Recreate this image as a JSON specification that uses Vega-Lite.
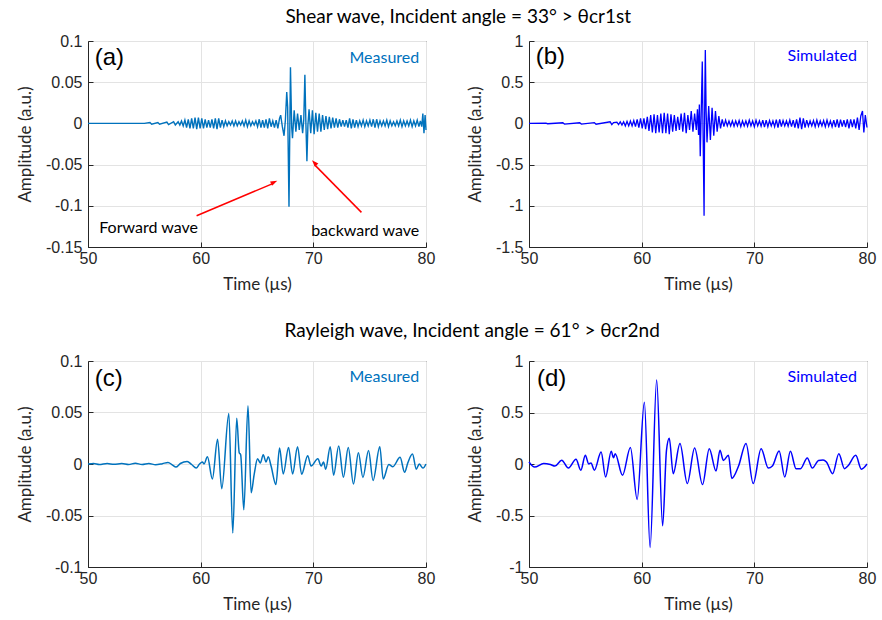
{
"$schema":"https://vega.github.io/schema/vega-lite/v6.json",
"background":"white",
"padding":{"left":16,"top":7,"right":6,"bottom":6},
"datasets":{
"a":[{"t":50,"a":0},{"t":55,"a":0},{"t":55.5,"a":0.001},{"t":55.65,"a":-0.001},{"t":56.2,"a":0.001},{"t":56.35,"a":-0.001},{"t":57,"a":0.0015},{"t":57.15,"a":-0.0015},{"t":57.6,"a":0.002},{"t":57.75,"a":-0.002},{"t":58,"a":0.002},{"t":58.15,"a":-0.002},{"t":58.3,"a":0.003},{"t":58.45,"a":-0.003},{"t":58.6,"a":0.004},{"t":58.75,"a":-0.005},{"t":58.9,"a":0.005},{"t":59.05,"a":-0.006},{"t":59.2,"a":0.006},{"t":59.35,"a":-0.006},{"t":59.5,"a":0.007},{"t":59.65,"a":-0.007},{"t":59.8,"a":0.007},{"t":59.95,"a":-0.006},{"t":60.1,"a":0.006},{"t":60.25,"a":-0.006},{"t":60.4,"a":0.005},{"t":60.55,"a":-0.005},{"t":60.7,"a":0.004},{"t":60.85,"a":-0.005},{"t":61,"a":0.005},{"t":61.15,"a":-0.006},{"t":61.3,"a":0.006},{"t":61.45,"a":-0.007},{"t":61.6,"a":0.006},{"t":61.75,"a":-0.005},{"t":61.9,"a":0.004},{"t":62.05,"a":-0.004},{"t":62.2,"a":0.003},{"t":62.35,"a":-0.003},{"t":62.5,"a":0.002},{"t":62.65,"a":-0.002},{"t":62.8,"a":0.003},{"t":62.95,"a":-0.003},{"t":63.1,"a":0.003},{"t":63.25,"a":-0.003},{"t":63.4,"a":0.002},{"t":63.55,"a":-0.002},{"t":63.7,"a":0.003},{"t":63.85,"a":-0.003},{"t":64,"a":0.004},{"t":64.15,"a":-0.004},{"t":64.3,"a":0.003},{"t":64.45,"a":-0.003},{"t":64.6,"a":0.002},{"t":64.75,"a":-0.002},{"t":64.9,"a":0.003},{"t":65.05,"a":-0.004},{"t":65.2,"a":0.005},{"t":65.35,"a":-0.005},{"t":65.5,"a":0.004},{"t":65.65,"a":-0.005},{"t":65.8,"a":0.005},{"t":65.95,"a":-0.006},{"t":66.1,"a":0.006},{"t":66.25,"a":-0.004},{"t":66.4,"a":0.003},{"t":66.55,"a":-0.005},{"t":66.7,"a":0.004},{"t":66.85,"a":-0.006},{"t":67,"a":0.006},{"t":67.1,"a":0.01},{"t":67.25,"a":-0.004},{"t":67.4,"a":-0.015},{"t":67.52,"a":0.004},{"t":67.64,"a":0.038},{"t":67.72,"a":0.02},{"t":67.84,"a":-0.101},{"t":67.97,"a":0.068},{"t":68.08,"a":-0.005},{"t":68.15,"a":-0.018},{"t":68.3,"a":0.016},{"t":68.45,"a":-0.01},{"t":68.6,"a":0.012},{"t":68.75,"a":-0.008},{"t":68.9,"a":0.01},{"t":69.05,"a":-0.012},{"t":69.15,"a":0.004},{"t":69.25,"a":0.059},{"t":69.34,"a":0},{"t":69.43,"a":-0.046},{"t":69.52,"a":-0.002},{"t":69.62,"a":0.017},{"t":69.77,"a":-0.012},{"t":69.92,"a":0.016},{"t":70.07,"a":-0.013},{"t":70.22,"a":0.013},{"t":70.37,"a":-0.01},{"t":70.52,"a":0.012},{"t":70.67,"a":-0.01},{"t":70.82,"a":0.01},{"t":70.97,"a":-0.008},{"t":71.12,"a":0.009},{"t":71.27,"a":-0.007},{"t":71.42,"a":0.008},{"t":71.57,"a":-0.006},{"t":71.72,"a":0.007},{"t":71.87,"a":-0.005},{"t":72.02,"a":0.006},{"t":72.17,"a":-0.005},{"t":72.32,"a":0.005},{"t":72.47,"a":-0.004},{"t":72.62,"a":0.004},{"t":72.77,"a":-0.004},{"t":72.92,"a":0.004},{"t":73.07,"a":-0.005},{"t":73.22,"a":0.006},{"t":73.37,"a":-0.006},{"t":73.52,"a":0.005},{"t":73.67,"a":-0.005},{"t":73.82,"a":0.004},{"t":73.97,"a":-0.004},{"t":74.12,"a":0.003},{"t":74.27,"a":-0.003},{"t":74.42,"a":0.004},{"t":74.57,"a":-0.004},{"t":74.72,"a":0.003},{"t":74.87,"a":-0.003},{"t":75.02,"a":0.004},{"t":75.17,"a":-0.004},{"t":75.32,"a":0.005},{"t":75.47,"a":-0.005},{"t":75.62,"a":0.005},{"t":75.77,"a":-0.004},{"t":75.92,"a":0.003},{"t":76.07,"a":-0.003},{"t":76.22,"a":0.003},{"t":76.37,"a":-0.003},{"t":76.52,"a":0.004},{"t":76.67,"a":-0.004},{"t":76.82,"a":0.003},{"t":76.97,"a":-0.003},{"t":77.12,"a":0.002},{"t":77.27,"a":-0.003},{"t":77.42,"a":0.003},{"t":77.57,"a":-0.003},{"t":77.72,"a":0.004},{"t":77.87,"a":-0.004},{"t":78.02,"a":0.003},{"t":78.17,"a":-0.003},{"t":78.32,"a":0.003},{"t":78.47,"a":-0.003},{"t":78.62,"a":0.004},{"t":78.77,"a":-0.004},{"t":78.92,"a":0.003},{"t":79.07,"a":-0.003},{"t":79.22,"a":0.004},{"t":79.37,"a":-0.004},{"t":79.5,"a":0.003},{"t":79.62,"a":-0.004},{"t":79.72,"a":0.012},{"t":79.82,"a":-0.012},{"t":79.92,"a":0.01},{"t":80,"a":-0.008}],
"b":[{"t":50,"a":0},{"t":51.5,"a":0.004},{"t":51.65,"a":-0.004},{"t":53,"a":0.008},{"t":53.15,"a":-0.008},{"t":54.5,"a":0.008},{"t":54.65,"a":-0.008},{"t":55.8,"a":0.01},{"t":55.95,"a":-0.01},{"t":57.2,"a":0.02},{"t":57.35,"a":-0.015},{"t":57.5,"a":0.01},{"t":57.8,"a":0.015},{"t":57.95,"a":-0.015},{"t":58.1,"a":0.02},{"t":58.25,"a":-0.02},{"t":58.4,"a":0.02},{"t":58.55,"a":-0.03},{"t":58.7,"a":0.025},{"t":58.85,"a":-0.03},{"t":59,"a":0.03},{"t":59.15,"a":-0.03},{"t":59.3,"a":0.035},{"t":59.45,"a":-0.04},{"t":59.6,"a":0.05},{"t":59.75,"a":-0.05},{"t":59.9,"a":0.06},{"t":60.05,"a":-0.06},{"t":60.2,"a":0.06},{"t":60.35,"a":-0.07},{"t":60.5,"a":0.08},{"t":60.65,"a":-0.09},{"t":60.8,"a":0.1},{"t":60.95,"a":-0.11},{"t":61.1,"a":0.11},{"t":61.25,"a":-0.12},{"t":61.4,"a":0.1},{"t":61.55,"a":-0.11},{"t":61.7,"a":0.12},{"t":61.85,"a":-0.12},{"t":62,"a":0.13},{"t":62.15,"a":-0.12},{"t":62.3,"a":0.12},{"t":62.45,"a":-0.13},{"t":62.6,"a":0.11},{"t":62.75,"a":-0.1},{"t":62.9,"a":0.1},{"t":63.05,"a":-0.09},{"t":63.2,"a":0.08},{"t":63.35,"a":-0.08},{"t":63.5,"a":0.12},{"t":63.65,"a":-0.1},{"t":63.8,"a":0.13},{"t":63.95,"a":-0.12},{"t":64.1,"a":0.1},{"t":64.25,"a":-0.08},{"t":64.4,"a":0.15},{"t":64.55,"a":-0.1},{"t":64.7,"a":0.12},{"t":64.85,"a":-0.08},{"t":64.95,"a":0.17},{"t":65.05,"a":-0.14},{"t":65.12,"a":0.23},{"t":65.2,"a":-0.4},{"t":65.28,"a":0.1},{"t":65.38,"a":0.75},{"t":65.46,"a":-0.2},{"t":65.54,"a":-1.12},{"t":65.6,"a":0.3},{"t":65.65,"a":0.89},{"t":65.72,"a":0.15},{"t":65.8,"a":-0.23},{"t":65.95,"a":0.21},{"t":66.1,"a":-0.2},{"t":66.25,"a":0.19},{"t":66.4,"a":-0.15},{"t":66.55,"a":0.15},{"t":66.7,"a":-0.1},{"t":66.85,"a":0.09},{"t":67,"a":-0.06},{"t":67.15,"a":0.05},{"t":67.3,"a":-0.04},{"t":67.45,"a":0.04},{"t":67.6,"a":-0.03},{"t":67.75,"a":0.03},{"t":67.9,"a":-0.03},{"t":68.05,"a":0.03},{"t":68.2,"a":-0.035},{"t":68.35,"a":0.03},{"t":68.5,"a":-0.03},{"t":68.65,"a":0.035},{"t":68.8,"a":-0.04},{"t":68.95,"a":0.03},{"t":69.1,"a":-0.03},{"t":69.25,"a":0.03},{"t":69.4,"a":-0.035},{"t":69.55,"a":0.04},{"t":69.7,"a":-0.03},{"t":69.85,"a":0.03},{"t":70,"a":-0.04},{"t":70.15,"a":0.04},{"t":70.3,"a":-0.03},{"t":70.45,"a":0.03},{"t":70.6,"a":-0.035},{"t":70.75,"a":0.04},{"t":70.9,"a":-0.045},{"t":71.05,"a":0.04},{"t":71.2,"a":-0.04},{"t":71.35,"a":0.035},{"t":71.5,"a":-0.03},{"t":71.65,"a":0.03},{"t":71.8,"a":-0.04},{"t":71.95,"a":0.045},{"t":72.1,"a":-0.05},{"t":72.25,"a":0.05},{"t":72.4,"a":-0.04},{"t":72.55,"a":0.035},{"t":72.7,"a":-0.03},{"t":72.85,"a":0.03},{"t":73,"a":-0.035},{"t":73.15,"a":0.04},{"t":73.3,"a":-0.04},{"t":73.45,"a":0.04},{"t":73.6,"a":-0.05},{"t":73.75,"a":0.05},{"t":73.9,"a":-0.06},{"t":74.05,"a":0.07},{"t":74.2,"a":-0.07},{"t":74.35,"a":0.06},{"t":74.5,"a":-0.05},{"t":74.65,"a":0.04},{"t":74.8,"a":-0.035},{"t":74.95,"a":0.03},{"t":75.1,"a":-0.03},{"t":75.25,"a":0.035},{"t":75.4,"a":-0.04},{"t":75.55,"a":0.04},{"t":75.7,"a":-0.035},{"t":75.85,"a":0.03},{"t":76,"a":-0.03},{"t":76.15,"a":0.035},{"t":76.3,"a":-0.04},{"t":76.45,"a":0.04},{"t":76.6,"a":-0.035},{"t":76.75,"a":0.03},{"t":76.9,"a":-0.04},{"t":77.05,"a":0.04},{"t":77.2,"a":-0.045},{"t":77.35,"a":0.05},{"t":77.5,"a":-0.05},{"t":77.65,"a":0.045},{"t":77.8,"a":-0.04},{"t":77.95,"a":0.04},{"t":78.1,"a":-0.045},{"t":78.25,"a":0.05},{"t":78.4,"a":-0.06},{"t":78.55,"a":0.05},{"t":78.7,"a":-0.045},{"t":78.85,"a":0.05},{"t":79,"a":-0.06},{"t":79.15,"a":0.07},{"t":79.3,"a":-0.08},{"t":79.45,"a":0.09},{"t":79.6,"a":0.15},{"t":79.72,"a":-0.11},{"t":79.85,"a":0.1},{"t":80,"a":-0.05}],
"c":[{"t":50,"a":0},{"t":50.5,"a":0.0005},{"t":51,"a":-0.0005},{"t":51.7,"a":0.0005},{"t":52.3,"a":-0.0003},{"t":53,"a":0.0005},{"t":53.6,"a":-0.0005},{"t":54.2,"a":0.0008},{"t":54.8,"a":-0.0005},{"t":55.4,"a":0.0005},{"t":56,"a":-0.0008},{"t":56.6,"a":0.0003},{"t":57.1,"a":0.0015},{"t":57.5,"a":-0.001},{"t":57.8,"a":-0.003},{"t":58.2,"a":0.0005},{"t":58.8,"a":0.0025},{"t":59.2,"a":-0.0005},{"t":59.6,"a":-0.004},{"t":59.9,"a":0},{"t":60.15,"a":0.002},{"t":60.3,"a":0},{"t":60.6,"a":0.007},{"t":61.04,"a":-0.0145},{"t":61.5,"a":0.024},{"t":61.87,"a":-0.024},{"t":62.5,"a":0.049},{"t":62.85,"a":-0.067},{"t":63.2,"a":0.0445},{"t":63.42,"a":0.011},{"t":63.55,"a":0.009},{"t":63.83,"a":-0.0445},{"t":64.2,"a":0.0565},{"t":64.48,"a":-0.028},{"t":64.75,"a":-0.01},{"t":65.05,"a":0.005},{"t":65.3,"a":0.001},{"t":65.55,"a":0.009},{"t":65.8,"a":0.002},{"t":66,"a":0.007},{"t":66.25,"a":-0.002},{"t":66.68,"a":-0.02},{"t":67,"a":0.0155},{"t":67.33,"a":-0.0097},{"t":67.8,"a":0.016},{"t":68.16,"a":-0.0097},{"t":68.6,"a":0.0168},{"t":68.96,"a":-0.01},{"t":69.5,"a":0.008},{"t":69.8,"a":-0.002},{"t":70.4,"a":0.005},{"t":70.7,"a":-0.002},{"t":70.9,"a":0.002},{"t":71.1,"a":-0.005},{"t":71.5,"a":0.0168},{"t":71.8,"a":-0.011},{"t":72.25,"a":0.0174},{"t":72.67,"a":-0.0129},{"t":73.1,"a":0.016},{"t":73.56,"a":-0.0194},{"t":74,"a":0.011},{"t":74.4,"a":-0.013},{"t":74.9,"a":0.013},{"t":75.3,"a":-0.016},{"t":75.9,"a":0.0168},{"t":76.2,"a":-0.0145},{"t":76.7,"a":-0.0006},{"t":77.06,"a":-0.0026},{"t":77.7,"a":0.0065},{"t":78.1,"a":-0.008},{"t":78.4,"a":0.0016},{"t":78.8,"a":0.0097},{"t":79.14,"a":-0.005},{"t":79.4,"a":0},{"t":79.73,"a":-0.004},{"t":80,"a":0}],
"d":[{"t":50,"a":0.02},{"t":50.5,"a":-0.03},{"t":51.3,"a":0.005},{"t":51.9,"a":-0.005},{"t":52.3,"a":-0.02},{"t":52.9,"a":0.036},{"t":53.5,"a":-0.04},{"t":54.17,"a":0.045},{"t":54.6,"a":-0.06},{"t":55,"a":0.084},{"t":55.3,"a":0},{"t":55.5,"a":0.01},{"t":55.8,"a":-0.06},{"t":56.4,"a":0.117},{"t":56.8,"a":-0.127},{"t":57.3,"a":0.123},{"t":57.5,"a":0.06},{"t":57.65,"a":0.1},{"t":58.3,"a":-0.11},{"t":59,"a":0.16},{"t":59.6,"a":-0.344},{"t":60.24,"a":0.6},{"t":60.75,"a":-0.81},{"t":61.33,"a":0.815},{"t":61.86,"a":-0.6},{"t":62.2,"a":0.13},{"t":62.45,"a":0.25},{"t":62.8,"a":-0.094},{"t":63.4,"a":0.198},{"t":64.05,"a":-0.19},{"t":64.7,"a":0.156},{"t":65.4,"a":-0.2},{"t":66,"a":0.149},{"t":66.6,"a":-0.068},{"t":66.95,"a":0.133},{"t":67.25,"a":0.035},{"t":67.7,"a":0.084},{"t":68,"a":-0.14},{"t":68.6,"a":-0.02},{"t":69.26,"a":0.2},{"t":69.9,"a":-0.19},{"t":70.6,"a":0.149},{"t":71.24,"a":-0.04},{"t":71.6,"a":-0.02},{"t":72.2,"a":0.127},{"t":72.7,"a":-0.127},{"t":73.2,"a":0.123},{"t":73.7,"a":-0.045},{"t":74.1,"a":-0.045},{"t":74.7,"a":0.058},{"t":75.15,"a":-0.04},{"t":75.7,"a":0.035},{"t":76.1,"a":0.04},{"t":76.4,"a":0.02},{"t":76.95,"a":-0.094},{"t":77.5,"a":0.1},{"t":78,"a":-0.045},{"t":78.3,"a":-0.02},{"t":79,"a":0.084},{"t":79.5,"a":-0.05},{"t":80,"a":0}]
},
"vconcat":[
{"title":{"text":"Shear wave, Incident angle = 33° > θcr1st","anchor":"middle","dx":12,"offset":6},
 "spacing":29,
 "hconcat":[
  {"width":338,"height":206,
   "layer":[
    {"data":{"name":"a"},"mark":{"type":"line","color":"#0072BD","strokeWidth":1.4},
     "encoding":{"x":{"field":"t","type":"quantitative","scale":{"domain":[50,80],"nice":false,"zero":false},"axis":{"title":"Time (µs)","values":[50,60,70,80]}},
                 "y":{"field":"a","type":"quantitative","scale":{"domain":[-0.15,0.1],"nice":false,"zero":false},"axis":{"title":"Amplitude (a.u.)","values":[-0.15,-0.1,-0.05,0,0.05,0.1]}}}},
    {"data":{"values":[{}]},"mark":{"type":"text","text":"(a)","align":"left","baseline":"middle","fontSize":24,"font":"Liberation Sans","color":"#000"},"encoding":{"x":{"datum":50.6},"y":{"datum":0.079}}},
    {"data":{"values":[{}]},"mark":{"type":"text","text":"Measured","align":"right","baseline":"middle","fontSize":16,"font":"Lato","color":"#0072BD"},"encoding":{"x":{"datum":79.4},"y":{"datum":0.079}}},
    {"data":{"values":[{}]},"mark":{"type":"text","text":"Forward wave","align":"left","baseline":"middle","fontSize":16,"font":"Lato","color":"#000"},"encoding":{"x":{"datum":51.0},"y":{"datum":-0.127}}},
    {"data":{"values":[{}]},"mark":{"type":"text","text":"backward wave","align":"right","baseline":"middle","fontSize":16,"font":"Lato","color":"#000"},"encoding":{"x":{"datum":79.4},"y":{"datum":-0.131}}},
    {"data":{"values":[{}]},"mark":{"type":"rule","color":"#FF0000","strokeWidth":1.5},"encoding":{"x":{"datum":59.64},"y":{"datum":-0.112},"x2":{"datum":66.5},"y2":{"datum":-0.0725}}},
    {"data":{"values":[{}]},"mark":{"type":"point","shape":"M0,0L-0.45,1.3L0.45,1.3Z","filled":true,"color":"#FF0000","opacity":1,"size":110,"angle":66},"encoding":{"x":{"datum":66.8},"y":{"datum":-0.0697}}},
    {"data":{"values":[{}]},"mark":{"type":"rule","color":"#FF0000","strokeWidth":1.5},"encoding":{"x":{"datum":74.27},"y":{"datum":-0.108},"x2":{"datum":70.1},"y2":{"datum":-0.05}}},
    {"data":{"values":[{}]},"mark":{"type":"point","shape":"M0,0L-0.45,1.3L0.45,1.3Z","filled":true,"color":"#FF0000","opacity":1,"size":110,"angle":317},"encoding":{"x":{"datum":69.88},"y":{"datum":-0.0447}}}
   ]},
  {"width":338,"height":206,
   "layer":[
    {"data":{"name":"b"},"mark":{"type":"line","color":"#0000FF","strokeWidth":1.3},
     "encoding":{"x":{"field":"t","type":"quantitative","scale":{"domain":[50,80],"nice":false,"zero":false},"axis":{"title":"Time (µs)","values":[50,60,70,80]}},
                 "y":{"field":"a","type":"quantitative","scale":{"domain":[-1.5,1],"nice":false,"zero":false},"axis":{"title":"Amplitude (a.u.)","values":[-1.5,-1,-0.5,0,0.5,1]}}}},
    {"data":{"values":[{}]},"mark":{"type":"text","text":"(b)","align":"left","baseline":"middle","fontSize":24,"font":"Liberation Sans","color":"#000"},"encoding":{"x":{"datum":50.6},"y":{"datum":0.8}}},
    {"data":{"values":[{}]},"mark":{"type":"text","text":"Simulated","align":"right","baseline":"middle","fontSize":16,"font":"Lato","color":"#0000FF"},"encoding":{"x":{"datum":79.1},"y":{"datum":0.82}}}
   ]}
 ]},
{"title":{"text":"Rayleigh wave, Incident angle = 61° > θcr2nd","anchor":"middle","dx":26,"offset":12},
 "spacing":29,
 "hconcat":[
  {"width":338,"height":206,
   "layer":[
    {"data":{"name":"c"},"mark":{"type":"line","color":"#0072BD","strokeWidth":1.5,"interpolate":"monotone"},
     "encoding":{"x":{"field":"t","type":"quantitative","scale":{"domain":[50,80],"nice":false,"zero":false},"axis":{"title":"Time (µs)","values":[50,60,70,80]}},
                 "y":{"field":"a","type":"quantitative","scale":{"domain":[-0.1,0.1],"nice":false,"zero":false},"axis":{"title":"Amplitude (a.u.)","values":[-0.1,-0.05,0,0.05,0.1]}}}},
    {"data":{"values":[{}]},"mark":{"type":"text","text":"(c)","align":"left","baseline":"middle","fontSize":24,"font":"Liberation Sans","color":"#000"},"encoding":{"x":{"datum":50.6},"y":{"datum":0.083}}},
    {"data":{"values":[{}]},"mark":{"type":"text","text":"Measured","align":"right","baseline":"middle","fontSize":16,"font":"Lato","color":"#0072BD"},"encoding":{"x":{"datum":79.4},"y":{"datum":0.084}}}
   ]},
  {"width":338,"height":206,
   "layer":[
    {"data":{"name":"d"},"mark":{"type":"line","color":"#0000FF","strokeWidth":1.5,"interpolate":"monotone"},
     "encoding":{"x":{"field":"t","type":"quantitative","scale":{"domain":[50,80],"nice":false,"zero":false},"axis":{"title":"Time (µs)","values":[50,60,70,80]}},
                 "y":{"field":"a","type":"quantitative","scale":{"domain":[-1,1],"nice":false,"zero":false},"axis":{"title":"Amplitude (a.u.)","values":[-1,-0.5,0,0.5,1]}}}},
    {"data":{"values":[{}]},"mark":{"type":"text","text":"(d)","align":"left","baseline":"middle","fontSize":24,"font":"Liberation Sans","color":"#000"},"encoding":{"x":{"datum":50.7},"y":{"datum":0.83}}},
    {"data":{"values":[{}]},"mark":{"type":"text","text":"Simulated","align":"right","baseline":"middle","fontSize":16,"font":"Lato","color":"#0000FF"},"encoding":{"x":{"datum":79.1},"y":{"datum":0.84}}}
   ]}
 ]}
],
"spacing":28,
"config":{
 "view":{"stroke":"#262626","strokeWidth":1},
 "axis":{"grid":true,"gridColor":"#E3E3E3","gridWidth":1,"domainColor":"#262626","tickColor":"#262626","tickSize":-5,"labelFont":"Liberation Sans","labelFontSize":16,"labelColor":"#262626","labelExpr":"'' + datum.value","titleFont":"Lato","titleFontSize":17,"titleFontWeight":"normal","titleColor":"#262626"},
 "axisX":{"titlePadding":10,"labelPadding":8,"labelFlush":false},
 "axisY":{"titlePadding":11,"labelPadding":11},
 "title":{"font":"Lato","fontSize":19,"fontWeight":"normal","color":"#000"}
}
}
